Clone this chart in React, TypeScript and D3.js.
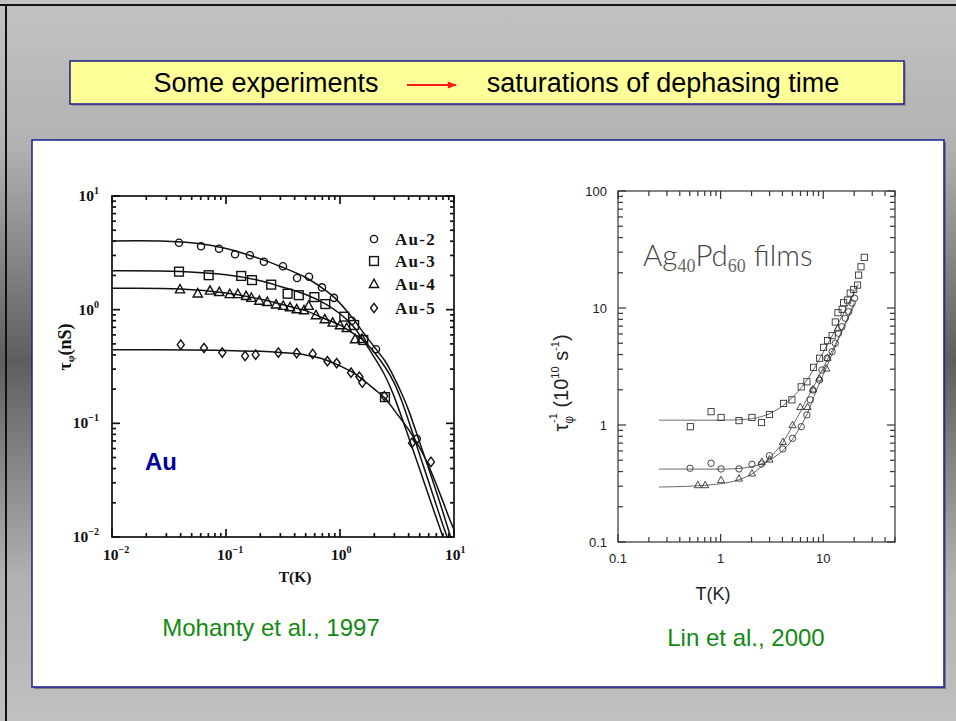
import React from "react";
import * as d3 from "d3";

// ---- left panel: Mohanty et al., 1997 — tau_phi (ns) vs T (K) ----
const au2 = [[0.0387,3.88],[0.0604,3.61],[0.0869,3.44],[0.120,3.07],[0.162,3.01],[0.215,2.64],[0.316,2.41],[0.420,1.90],[0.535,1.95],[0.695,1.57],[0.885,1.27],[1.27,0.80],[2.07,0.449],[4.71,0.073]];
const au3 = [[0.0387,2.16],[0.0705,2.01],[0.136,1.98],[0.169,1.82],[0.249,1.66],[0.347,1.38],[0.435,1.34],[0.596,1.29],[0.743,1.12],[1.09,0.868],[1.33,0.733],[1.60,0.541],[2.48,0.170]];
const au4 = [[0.0395,1.51],[0.0565,1.39],[0.0724,1.47],[0.0873,1.43],[0.108,1.37],[0.127,1.37],[0.150,1.32],[0.167,1.27],[0.196,1.20],[0.230,1.17],[0.275,1.11],[0.318,1.08],[0.364,1.05],[0.417,1.01],[0.483,0.99],[0.531,1.08],[0.615,0.893],[0.735,0.824],[0.863,0.769],[1.0,0.729],[1.145,0.690],[1.355,0.549],[1.56,0.554]];
const au5 = [[0.0401,0.492],[0.0641,0.460],[0.0928,0.419],[0.147,0.392],[0.182,0.402],[0.288,0.419],[0.417,0.414],[0.576,0.408],[0.775,0.352],[0.935,0.338],[1.25,0.279],[1.48,0.257],[1.57,0.228],[2.45,0.174],[4.28,0.0673],[6.28,0.0458]];

const au2Fit = [[0.01,4.02],[0.03,4.0],[0.06,3.8],[0.1,3.45],[0.2,2.8],[0.3,2.4],[0.5,1.92],[0.7,1.55],[0.9,1.27],[1.27,0.86],[1.6,0.63],[2.07,0.45],[2.5,0.35],[3,0.25],[3.5,0.18],[4,0.13],[5,0.068],[6,0.04],[7,0.025],[8,0.0165],[9.2,0.0105],[9.7,0.0088]];
const au3Fit = [[0.01,2.2],[0.04,2.17],[0.1,2.03],[0.2,1.8],[0.3,1.6],[0.5,1.36],[0.75,1.12],[1.0,0.92],[1.3,0.72],[1.6,0.54],[2.0,0.38],[2.4,0.28],[2.75,0.21],[3,0.17],[4,0.0755],[5,0.0394],[6,0.0231],[7,0.0147],[8,0.01],[8.5,0.0083]];
const au4Fit = [[0.01,1.54],[0.04,1.52],[0.1,1.40],[0.2,1.24],[0.3,1.12],[0.5,0.98],[0.7,0.85],[1.0,0.73],[1.3,0.62],[1.56,0.55],[2.0,0.42],[2.5,0.31],[3.0,0.225],[3.5,0.155],[4,0.105],[5,0.053],[6,0.0305],[7,0.019],[8,0.0127],[8.7,0.01],[9.2,0.0085]];
const au5Fit = [[0.01,0.443],[0.05,0.442],[0.1,0.437],[0.2,0.43],[0.3,0.42],[0.5,0.40],[0.7,0.37],[1,0.32],[1.3,0.28],[1.6,0.24],[2,0.2],[2.5,0.165],[3,0.13],[4,0.088],[5,0.061],[6,0.042],[7,0.029],[8,0.0205],[9,0.015],[10,0.0116]];

const leftSeries = ["Au-2", "Au-3", "Au-4", "Au-5"];
const leftTickExps = ["-2", "-1", "0", "1"];

// ---- right panel: Lin et al., 2000 — 1/tau_phi (1e10 s^-1) vs T (K) ----
const agSquares = [[0.507,0.967],[0.807,1.30],[1.01,1.16],[1.51,1.09],[2.02,1.16],[2.50,1.05],[2.99,1.23],[4.10,1.53],[4.95,1.64],[6.10,2.12],[6.93,2.34],[8.04,3.11],[9.20,3.72],[10.07,4.61],[11.0,5.26],[12.2,5.80],[13.1,7.59],[13.9,9.12],[15.3,9.75],[15.8,11.1],[17.3,11.7],[18.3,13.4],[19.8,14.4],[21.6,15.7],[22.1,19.1],[23.3,22.5],[25.1,27.1]];
const agCircles = [[0.503,0.427],[0.807,0.471],[1.01,0.421],[1.51,0.421],[2.02,0.461],[2.50,0.464],[2.99,0.547],[4.04,0.624],[5.02,0.769],[6.10,0.967],[6.93,1.22],[7.47,1.64],[7.94,1.99],[9.20,2.42],[9.71,2.95],[10.9,3.72],[12.2,4.23],[13.1,4.99],[14.1,6.08],[15.2,6.92],[16.4,8.17],[17.7,9.30],[19.1,11.0],[20.2,12.1]];
const agTriangles = [[0.600,0.307],[0.707,0.307],[1.01,0.339],[1.51,0.350],[2.02,0.387],[2.52,0.486],[2.99,0.509],[4.04,0.719],[5.02,1.0],[5.97,1.43],[7.03,1.43],[7.94,2.02],[9.14,2.51],[10.7,3.05],[11.0,3.76],[13.8,6.71]];

const sqFit = [[0.25,1.1],[0.5,1.1],[1,1.1],[1.5,1.11],[2,1.13],[2.5,1.18],[3,1.25],[4,1.45],[5,1.72],[6,2.05],[7,2.45],[8,2.95],[10,4.2],[12,5.6],[15,8.3],[20,13.5],[22,16]];
const circFit = [[0.25,0.42],[0.5,0.42],[1,0.42],[1.5,0.425],[2,0.44],[2.5,0.465],[3,0.5],[4,0.6],[5,0.75],[6,0.97],[7,1.25],[8,1.7],[10,2.7],[12,3.9],[15,6.2],[20,11]];
const triFit = [[0.25,0.295],[0.5,0.3],[1,0.315],[1.5,0.34],[2,0.38],[2.5,0.44],[3,0.52],[4,0.7],[5,0.98],[6,1.3],[7,1.7],[8,2.1],[10,3.1],[12,4.2],[15,6.2],[20,10.5]];

const rightYTicks = [0.1, 1, 10, 100];
const rightXTicks = [0.1, 1, 10];

const GREEN = "#128a12";
const NAVY = "#1c1c8c";

function Marker({ shape, x, y, s, sw, color }: any) {
  if (shape === "circle") return <circle cx={x} cy={y} r={s} fill="none" stroke={color} strokeWidth={sw} />;
  if (shape === "square") return <rect x={x - s} y={y - s} width={2 * s} height={2 * s} fill="none" stroke={color} strokeWidth={sw} />;
  if (shape === "triangle")
    return <path d={`M${x},${y - s * 1.1}L${x + s * 1.05},${y + s * 0.8}L${x - s * 1.05},${y + s * 0.8}Z`} fill="none" stroke={color} strokeWidth={sw} />;
  return <path d={`M${x},${y - s * 1.2}L${x + s * 0.9},${y}L${x},${y + s * 1.2}L${x - s * 0.9},${y}Z`} fill="none" stroke={color} strokeWidth={sw} />;
}

function isMajor(v: number) {
  const l = Math.log10(v);
  return Math.abs(l - Math.round(l)) < 1e-6;
}

function FrameTicks({ xs, ys, major, minor, color, sw }: any) {
  const [x0, x1] = xs.range();
  const [y1, y0] = ys.range();
  const out: any[] = [];
  xs.ticks().forEach((v: number, i: number) => {
    const L = isMajor(v) ? major : minor;
    const p = xs(v);
    out.push(<line key={"xb" + i} x1={p} x2={p} y1={y1} y2={y1 - L} />);
    out.push(<line key={"xt" + i} x1={p} x2={p} y1={y0} y2={y0 + L} />);
  });
  ys.ticks().forEach((v: number, i: number) => {
    const L = isMajor(v) ? major : minor;
    const p = ys(v);
    out.push(<line key={"yl" + i} x1={x0} x2={x0 + L} y1={p} y2={p} />);
    out.push(<line key={"yr" + i} x1={x1} x2={x1 - L} y1={p} y2={p} />);
  });
  return (
    <g stroke={color} strokeWidth={sw}>
      {out}
      <rect x={x0} y={y0} width={x1 - x0} height={y1 - y0} fill="none" />
    </g>
  );
}

export default function App() {
  const lx = d3.scaleLog().domain([0.01, 10]).range([112, 454]);
  const ly = d3.scaleLog().domain([0.01, 10]).range([537, 196]);
  const rx = d3.scaleLog().domain([0.1, 50]).range([618, 895]);
  const ry = d3.scaleLog().domain([0.1, 100]).range([542, 191]);

  const leftLine = d3.line<number[]>().x((d) => lx(d[0])).y((d) => ly(d[1])).curve(d3.curveCatmullRom.alpha(0.5));
  const rightLine = d3.line<number[]>().x((d) => rx(d[0])).y((d) => ry(d[1])).curve(d3.curveCatmullRom.alpha(0.5));

  const leftSets = [
    { pts: au2, fit: au2Fit, shape: "circle", s: 3.6 },
    { pts: au3, fit: au3Fit, shape: "square", s: 4.4 },
    { pts: au4, fit: au4Fit, shape: "triangle", s: 4.4 },
    { pts: au5, fit: au5Fit, shape: "diamond", s: 3.9 },
  ];
  const rightSets = [
    { pts: agSquares, fit: sqFit, shape: "square", s: 3.1 },
    { pts: agCircles, fit: circFit, shape: "circle", s: 3.2 },
    { pts: agTriangles, fit: triFit, shape: "triangle", s: 3.4 },
  ];
  const legendY = [239, 261, 284, 308];
  const serif = "'Liberation Serif', 'Times New Roman', serif";
  const sans = "'Liberation Sans', Arial, sans-serif";

  return (
    <svg width={956} height={721} style={{ position: "absolute", left: 0, top: 0, display: "block" }}>
      <defs>
        <linearGradient id="bg" x1="0" y1="0" x2="0" y2="1">
          <stop offset="0" stopColor="#c2c2c2" />
          <stop offset="0.2" stopColor="#b2b2b2" />
          <stop offset="0.5" stopColor="#5e5e5e" />
          <stop offset="0.8" stopColor="#b0b0b0" />
          <stop offset="1" stopColor="#c0c0c0" />
        </linearGradient>
        <clipPath id="clipL">
          <rect x={112} y={196} width={342} height={341} />
        </clipPath>
        <clipPath id="clipR">
          <rect x={618} y={191} width={277} height={351} />
        </clipPath>
        <marker id="arrow" viewBox="0 0 10 10" refX="9" refY="5" markerWidth="10" markerHeight="9" orient="auto" markerUnits="userSpaceOnUse">
          <path d="M0,1L10,5L0,9Z" fill="#ff1a1a" />
        </marker>
      </defs>

      <rect x={0} y={0} width={956} height={721} fill="url(#bg)" />
      <rect x={0} y={4} width={956} height={2} fill="#111" />
      <rect x={5} y={4} width={2} height={717} fill="#111" />

      {/* title box */}
      <rect x={72} y={63} width={834} height={43} fill="#777" opacity={0.5} />
      <rect x={70} y={61} width={834} height={43} fill="#ffff99" stroke={NAVY} strokeWidth={1.5} />
      <g fontFamily={sans} fontSize={27} fill="#000">
        <text x={266} y={92} textAnchor="middle">Some experiments</text>
        <text x={663} y={92} textAnchor="middle">saturations of dephasing time</text>
      </g>
      <line x1={407} y1={85} x2={456} y2={85} stroke="#ff1a1a" strokeWidth={1.8} markerEnd="url(#arrow)" />

      {/* main panel */}
      <rect x={34} y={142} width={912} height={547} fill="#555" opacity={0.6} />
      <rect x={32} y={140} width={912} height={547} fill="#fff" stroke={NAVY} strokeWidth={1.5} />

      {/* ---------- left chart ---------- */}
      <g clipPath="url(#clipL)" fill="none" stroke="#111" strokeWidth={1.5}>
        {leftSets.map((s, i) => (
          <path key={i} d={leftLine(s.fit) || ""} />
        ))}
      </g>
      {leftSets.map((s, i) =>
        s.pts.map((p, j) => (
          <Marker key={i + "-" + j} shape={s.shape} x={lx(p[0])} y={ly(p[1])} s={s.s} sw={1.4} color="#111" />
        ))
      )}
      <FrameTicks xs={lx} ys={ly} major={8} minor={4} color="#111" sw={1.7} />
      <g fontFamily={serif} fontWeight="bold" fontSize={15.5} fill="#111">
        {leftTickExps.map((e, i) => (
          <text key={"ly" + i} x={99} y={ly(Math.pow(10, +e)) + 5} textAnchor="end">
            10<tspan fontSize={10} dy={-7}>{e.replace("-", "\u2212")}</tspan>
          </text>
        ))}
        {leftTickExps.map((e, i) => (
          <text key={"lx" + i} x={lx(Math.pow(10, +e)) - 9} y={560}>
            10<tspan fontSize={10} dy={-7}>{e.replace("-", "\u2212")}</tspan>
          </text>
        ))}
        <text x={295} y={582} textAnchor="middle" fontSize={15.5}>T(K)</text>
        <text transform="translate(71,347) rotate(-90)" textAnchor="middle" fontSize={18}>
          τ<tspan fontSize={11} dy={3}>φ</tspan>
          <tspan dy={-3}>(nS)</tspan>
        </text>
      </g>
      {leftSeries.map((name, i) => (
        <g key={name}>
          <Marker shape={leftSets[i].shape} x={374} y={legendY[i]} s={leftSets[i].s} sw={1.4} color="#111" />
          <text x={395} y={legendY[i] + 5.5} fontFamily={serif} fontWeight="bold" fontSize={17} letterSpacing={1.3} fill="#111">
            {name}
          </text>
        </g>
      ))}
      <text x={145} y={470} fontFamily={sans} fontWeight="bold" fontSize={24} fill="#000099">Au</text>
      <text x={271} y={636} textAnchor="middle" fontFamily={sans} fontSize={24} fill={GREEN}>Mohanty et al., 1997</text>

      {/* ---------- right chart ---------- */}
      <g clipPath="url(#clipR)" fill="none" stroke="#555" strokeWidth={0.9}>
        {rightSets.map((s, i) => (
          <path key={i} d={rightLine(s.fit) || ""} />
        ))}
      </g>
      {rightSets.map((s, i) =>
        s.pts.map((p, j) => (
          <Marker key={"r" + i + "-" + j} shape={s.shape} x={rx(p[0])} y={ry(p[1])} s={s.s} sw={0.9} color="#333" />
        ))
      )}
      <FrameTicks xs={rx} ys={ry} major={8} minor={5} color="#333" sw={1.2} />
      <g fontFamily={sans} fontSize={13} fill="#222">
        {rightYTicks.map((v) => (
          <text key={"ry" + v} x={607} y={ry(v) + 5} textAnchor="end">{String(v)}</text>
        ))}
        {rightXTicks.map((v) => (
          <text key={"rx" + v} x={rx(v)} y={563} textAnchor="middle">{String(v)}</text>
        ))}
        <text x={713} y={600} textAnchor="middle" fontSize={18}>T(K)</text>
        <text transform="translate(568,383) rotate(-90)" textAnchor="middle" fontSize={20}>
          τ<tspan fontSize={12} dy={5}>φ</tspan>
          <tspan fontSize={11} dx={-7} dy={-16}>-1</tspan>
          <tspan dy={11}> (10</tspan>
          <tspan fontSize={11} dy={-9}>10</tspan>
          <tspan dy={9}> s</tspan>
          <tspan fontSize={11} dy={-9}>-1</tspan>
          <tspan dy={9}>)</tspan>
        </text>
      </g>
      <text x={643} y={266} fontFamily="Lato, 'Open Sans', sans-serif" fontWeight={300} fontSize={29.5} fill="#444">
        Ag<tspan fontFamily={serif} fontSize={18} fill="#666" dy={6}>40</tspan>
        <tspan dy={-6}>Pd</tspan>
        <tspan fontFamily={serif} fontSize={18} fill="#666" dy={6}>60</tspan>
        <tspan dy={-6}> films</tspan>
      </text>
      <text x={746} y={646} textAnchor="middle" fontFamily={sans} fontSize={24} fill={GREEN}>Lin et al., 2000</text>
    </svg>
  );
}
